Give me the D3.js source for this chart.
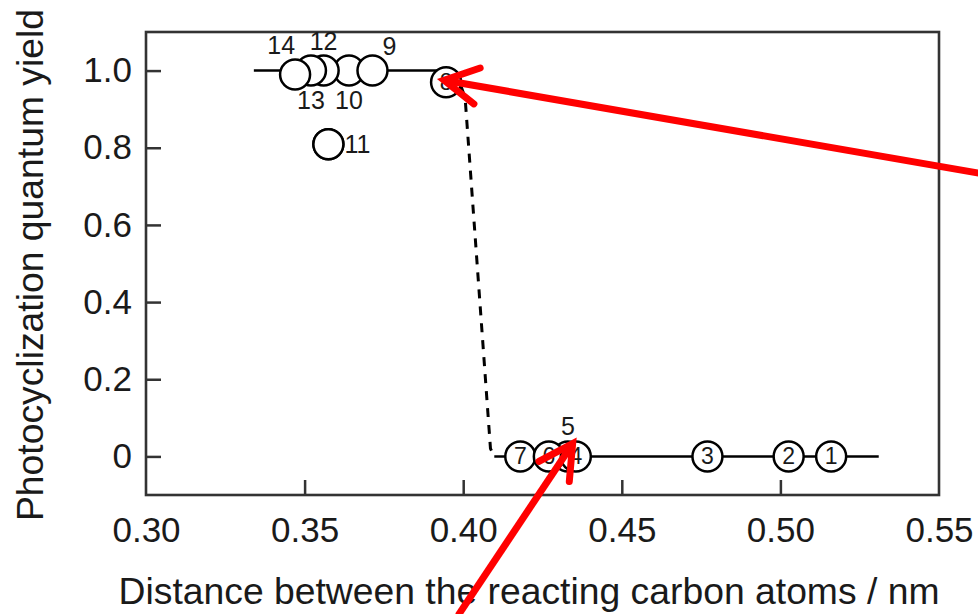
<!DOCTYPE html>
<html><head><meta charset="utf-8">
<script src="https://cdn.jsdelivr.net/npm/d3@7"></script>
<style>body{margin:0;background:#fff}svg{display:block}text{font-family:"Liberation Sans",Arial,sans-serif;fill:#1a1a1a}</style>
</head><body><svg id="c" width="978" height="614"></svg>
<script>
// ---- data ----
const pointIds   = ["1","2","3","4","5","6","7","8","9","10","11","12","13","14"];
const distances  = [0.516,0.5026,0.477,0.4355,0.433,0.427,0.418,0.3946,0.3714,0.364,0.3575,0.356,0.352,0.347];
const yields     = [0,0,0,0,0,0,0,0.97,1.0,1.0,0.809,1.0,1.0,0.99];
// label placement: "in" = inside circle, otherwise direction
const labelPos   = ["in","in","in","in","above","in","in","in","aboveRight","below","right","above","below","aboveLeft"];
const fitTopX    = [0.334, 0.3975];
const fitDashX   = [0.3975, 0.4006, 0.4086, 0.4098];
const fitDashY   = [1.0, 0.93, 0.02, 0.0];
const fitBottomX = [0.4098, 0.531];
const xTicks     = [0.30,0.35,0.40,0.45,0.50,0.55];
const yTicks     = [0,0.2,0.4,0.6,0.8,1.0];
const arrowTips  = [[0.3940,0.975],[0.4345,0.033]];
const arrowTails = [[0.5640,0.732],[0.3984,-0.412]];

const W=978,H=614,m={l:146,r:39,t:32,b:119};
const svg=d3.select("#c");
const x=d3.scaleLinear().domain([0.30,0.55]).range([m.l,W-m.r]);
const y=d3.scaleLinear().domain([-0.1,1.1]).range([H-m.b,m.t]);
const FS=35, TS=37.3;

// ticks (inward)
const gx=svg.append("g").attr("transform",`translate(0,${H-m.b})`)
  .call(d3.axisBottom(x).tickValues(xTicks).tickFormat(d3.format(".2f")).tickSizeInner(-15).tickSizeOuter(0).tickPadding(22));
const gy=svg.append("g").attr("transform",`translate(${m.l},0)`)
  .call(d3.axisLeft(y).tickValues(yTicks).tickFormat(d=>d===0?"0":d3.format(".1f")(d)).tickSizeInner(-15).tickSizeOuter(0).tickPadding(14));
[gx,gy].forEach(g=>{g.select(".domain").remove();g.selectAll(".tick line").attr("stroke","#333").attr("stroke-width",2.5);
  g.selectAll("text").attr("font-size",FS).attr("fill","#1a1a1a").style("font-family","Liberation Sans, Arial, sans-serif");});
gx.selectAll(".tick").filter(d=>d===0.30||d===0.55).select("line").remove();
// frame
svg.append("rect").attr("x",x(0.30)).attr("y",y(1.1)).attr("width",x(0.55)-x(0.30)).attr("height",y(-0.1)-y(1.1))
  .attr("fill","none").attr("stroke","#333").attr("stroke-width",2.6);

// axis titles
svg.append("text").attr("x",529).attr("y",604).attr("text-anchor","middle").attr("font-size",TS)
  .text("Distance between the reacting carbon atoms / nm");
svg.append("text").attr("transform",`translate(43,265) rotate(-90)`).attr("text-anchor","middle").attr("font-size",TS)
  .text("Photocyclization quantum yield");

// fit curve
const line=d3.line().x(d=>x(d[0])).y(d=>y(d[1]));
svg.append("path").attr("d",line(fitTopX.map(v=>[v,1.0]))).attr("stroke","#000").attr("stroke-width",2.5).attr("fill","none");
svg.append("path").attr("d",line(fitDashX.map((v,i)=>[v,fitDashY[i]]))).attr("stroke","#000").attr("stroke-width",3).attr("fill","none").attr("stroke-dasharray","9,8");
svg.append("path").attr("d",line(fitBottomX.map(v=>[v,0]))).attr("stroke","#000").attr("stroke-width",2.5).attr("fill","none");

// points
const pts=pointIds.map((id,i)=>({id,x:distances[i],y:yields[i],pos:labelPos[i]}));
const drawOrder=[4,9,8,11,10,12,13,7,6,5,3,2,1,0,10];
const gp=svg.append("g");
drawOrder.forEach(i=>{const p=pts[i];
  gp.append("circle").attr("cx",x(p.x)).attr("cy",y(p.y)).attr("r",15).attr("fill","#fff").attr("stroke","#000").attr("stroke-width",2.5);
  if(p.pos==="in") gp.append("text").attr("x",x(p.x)).attr("y",y(p.y)+8).attr("text-anchor","middle").attr("font-size",23).text(p.id);
});
const off={above:[0,-21,"middle"],aboveRight:[10,-16,"start"],aboveLeft:[0,-20,"end"],below:[0,38,"middle"],right:[16,9,"start"]};
pts.forEach(p=>{if(p.pos==="in")return;const o=off[p.pos];
  gp.append("text").attr("x",x(p.x)+o[0]).attr("y",y(p.y)+o[1]).attr("text-anchor",o[2]).attr("font-size",25).text(p.id);});

// red annotation arrows
arrowTips.forEach((t,i)=>{
  const tx=x(t[0]),ty=y(t[1]),sx=x(arrowTails[i][0]),sy=y(arrowTails[i][1]);
  const a=Math.atan2(sy-ty,sx-tx),L=38,sp=0.5;
  const g=svg.append("g").attr("stroke","#ff0000").attr("stroke-width",7).attr("fill","none").attr("stroke-linecap","round");
  g.append("line").attr("x1",tx).attr("y1",ty).attr("x2",sx).attr("y2",sy).attr("stroke-linecap","butt");
  g.append("polyline").attr("points",`${tx+L*Math.cos(a-sp)},${ty+L*Math.sin(a-sp)} ${tx},${ty} ${tx+L*Math.cos(a+sp)},${ty+L*Math.sin(a+sp)}`);
});
</script></body></html>
